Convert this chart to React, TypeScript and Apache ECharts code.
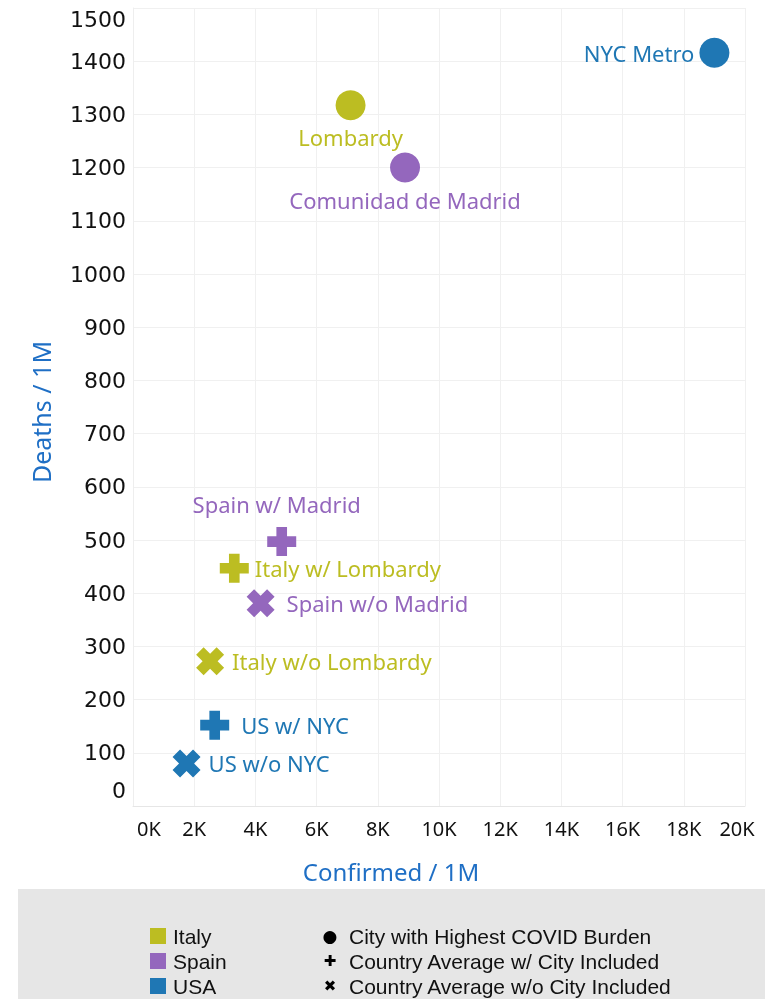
import React, { useEffect, useRef } from "react";
import * as echarts from "echarts";

const countries = ["Italy", "Spain", "USA"];
const countryColors = ["#bcbd22", "#9467bd", "#1f77b4"];

const pointNames = [
  "Lombardy",
  "Italy w/ Lombardy",
  "Italy w/o Lombardy",
  "Comunidad de Madrid",
  "Spain w/ Madrid",
  "Spain w/o Madrid",
  "NYC Metro",
  "US w/ NYC",
  "US w/o NYC",
];
const pointCountry = ["Italy", "Italy", "Italy", "Spain", "Spain", "Spain", "USA", "USA", "USA"];
const pointKind = ["city", "with", "without", "city", "with", "without", "city", "with", "without"];
const confirmed = [7110, 3310, 2520, 8890, 4860, 4170, 19000, 2670, 1750];
const deaths = [1317, 447, 272, 1200, 497, 381, 1416, 152, 80];

const kindKeys = ["city", "with", "without"];
const kindLabels = [
  "City with Highest COVID Burden",
  "Country Average w/ City Included",
  "Country Average w/o City Included",
];
const kindGlyphs = ["●", "✚", "✖"];

const xAxisTitle = "Confirmed / 1M";
const yAxisTitle = "Deaths / 1M";

const PLUS = "path://M-1.1,-3H1.1V-1.1H3V1.1H1.1V3H-1.1V1.1H-3V-1.1H-1.1Z";
const CROSS =
  "path://M1.344,-2.899L2.899,-1.344L1.556,0L2.899,1.344L1.344,2.899L0,1.556L-1.344,2.899L-2.899,1.344L-1.556,0L-2.899,-1.344L-1.344,-2.899L0,-1.556Z";

const symbolFor: Record<string, string> = { city: "circle", with: PLUS, without: CROSS };
const sizeFor: Record<string, number> = { city: 30, with: 29, without: 28 };

const labelLayout: Record<string, any> = {
  "Lombardy": { position: "bottom", distance: 6 },
  "Comunidad de Madrid": { position: "bottom", distance: 6 },
  "NYC Metro": { position: "left", distance: 5 },
  "Spain w/ Madrid": { position: "top", distance: 12, offset: [-5, 0] },
  "Italy w/ Lombardy": { position: "right", distance: 6 },
  "Spain w/o Madrid": { position: "right", distance: 12 },
  "Italy w/o Lombardy": { position: "right", distance: 8 },
  "US w/ NYC": { position: "right", distance: 12 },
  "US w/o NYC": { position: "right", distance: 8 },
};

const FONT = "Noto Sans";
const LEGEND_FONT = "Liberation Sans";

export default function App() {
  const ref = useRef<HTMLDivElement>(null);
  useEffect(() => {
    if (!ref.current) return;
    const chart = echarts.init(ref.current, undefined, { renderer: "svg" });
    const series = countries.map((c, ci) => ({
      name: c,
      type: "scatter",
      itemStyle: { color: countryColors[ci], opacity: 1 },
      data: pointNames
        .map((n, i) => ({ n, i }))
        .filter(({ i }) => pointCountry[i] === c)
        .map(({ n, i }) => ({
          name: n,
          value: [confirmed[i], deaths[i]],
          symbol: symbolFor[pointKind[i]],
          symbolSize: sizeFor[pointKind[i]],
          label: {
            show: true,
            formatter: n,
            color: countryColors[ci],
            fontSize: 22,
            fontFamily: FONT,
            ...labelLayout[n],
          },
        })),
    }));

    const graphics: any[] = [
      {
        type: "rect",
        z: -10,
        shape: { x: 18, y: 889, width: 747, height: 110 },
        style: { fill: "#e6e6e6" },
      },
      {
        type: "text",
        x: 41,
        y: 412,
        rotation: Math.PI / 2,
        style: {
          text: yAxisTitle,
          fill: "#1f6fc5",
          fontSize: 25,
          fontFamily: FONT,
          align: "center",
          verticalAlign: "middle",
        },
      },
      {
        type: "text",
        x: 391,
        y: 871,
        style: {
          text: xAxisTitle,
          fill: "#1f6fc5",
          fontSize: 24,
          fontFamily: FONT,
          align: "center",
          verticalAlign: "middle",
        },
      },
    ];
    countries.forEach((c, i) => {
      graphics.push({
        type: "rect",
        shape: { x: 150, y: 928 + i * 25, width: 16, height: 16 },
        style: { fill: countryColors[i] },
      });
      graphics.push({
        type: "text",
        x: 173,
        y: 936 + i * 25,
        style: {
          text: c,
          fill: "#111",
          fontSize: 21,
          fontFamily: LEGEND_FONT,
          align: "left",
          verticalAlign: "middle",
        },
      });
    });
    kindKeys.forEach((k, i) => {
      graphics.push({
        type: "text",
        x: 330,
        y: 936 + i * 25,
        style: {
          text: kindGlyphs[i],
          fill: "#000",
          fontSize: i === 0 ? 17 : 15,
          fontFamily: "DejaVu Sans",
          align: "center",
          verticalAlign: "middle",
        },
      });
      graphics.push({
        type: "text",
        x: 349,
        y: 936 + i * 25,
        style: {
          text: kindLabels[i],
          fill: "#111",
          fontSize: 21,
          fontFamily: LEGEND_FONT,
          align: "left",
          verticalAlign: "middle",
        },
      });
    });

    const xLabelStyle = { fontSize: 20, fontFamily: FONT, color: "#111" };
    const yLabelStyle = { fontSize: 22, fontFamily: "DejaVu Sans", color: "#111" };

    chart.setOption({
      animation: false,
      grid: { left: 133, right: 23, top: 8, bottom: 193, containLabel: false },
      xAxis: {
        type: "value",
        min: 0,
        max: 20000,
        interval: 2000,
        axisLine: { show: true, lineStyle: { color: "#e6e6e6" } },
        axisTick: { show: false },
        splitLine: { show: true, lineStyle: { color: "#f0f0f0" } },
        axisLabel: {
          formatter: (v: number) =>
            v === 0 ? `{a|${v / 1000}K}` : v === 20000 ? `{b|${v / 1000}K}` : `${v / 1000}K`,
          ...xLabelStyle,
          margin: 12,
          alignMinLabel: "left",
          alignMaxLabel: "center",
          rich: {
            a: { ...xLabelStyle, padding: [0, 0, 0, 4] },
            b: { ...xLabelStyle, padding: [0, 16, 0, 0] },
          },
        },
      },
      yAxis: {
        type: "value",
        min: 0,
        max: 1500,
        interval: 100,
        axisLine: { show: true, lineStyle: { color: "#eeeeee" } },
        axisTick: { show: false },
        splitLine: { show: true, lineStyle: { color: "#f0f0f0" } },
        axisLabel: {
          formatter: (v: number) => (v === 0 ? `{z|${v}}` : String(v)),
          ...yLabelStyle,
          margin: 7,
          verticalAlignMinLabel: "bottom",
          verticalAlignMaxLabel: "top",
          rich: {
            z: { ...yLabelStyle, padding: [0, 0, 5, 0] },
          },
        },
      },
      graphic: graphics,
      series,
    });
    return () => chart.dispose();
  }, []);
  return (
    <div
      ref={ref}
      style={{ position: "fixed", left: 0, top: 0, width: 768, height: 999 }}
    />
  );
}
